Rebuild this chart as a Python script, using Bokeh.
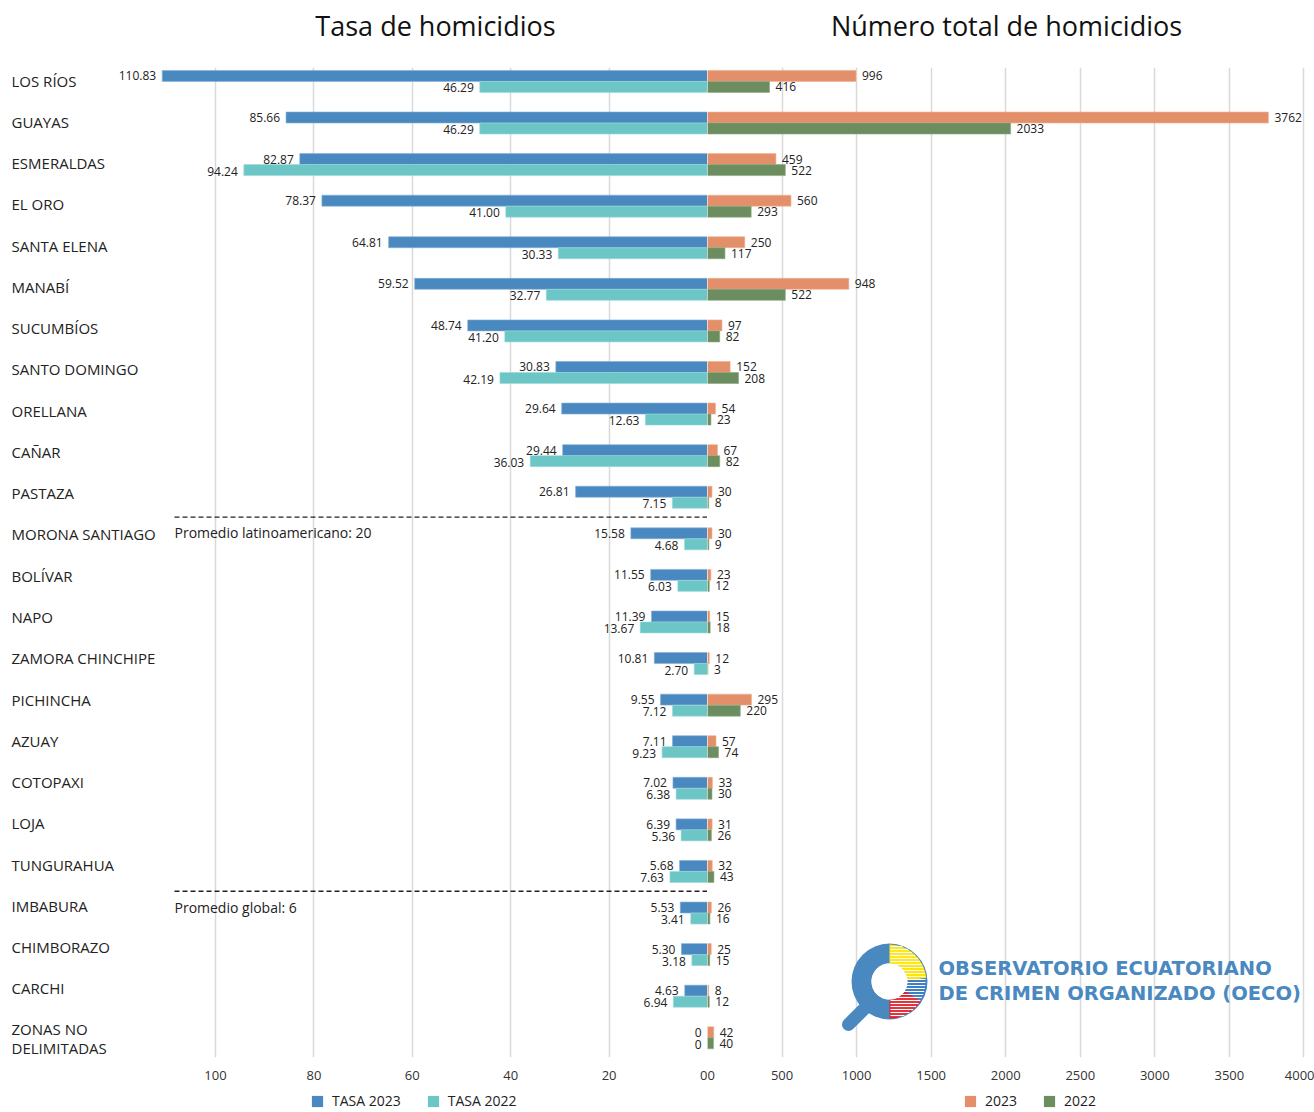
import math
from bokeh.plotting import figure
from bokeh.models import Range1d, FixedTicker, Legend, LegendItem, ColumnDataSource
from bokeh.layouts import row, column
from bokeh.embed import file_html
from bokeh.resources import INLINE
from bokeh.core.properties import value

# ---------------- data ----------------
provinces = ["LOS RÍOS", "GUAYAS", "ESMERALDAS", "EL ORO", "SANTA ELENA", "MANABÍ",
             "SUCUMBÍOS", "SANTO DOMINGO", "ORELLANA", "CAÑAR", "PASTAZA",
             "MORONA SANTIAGO", "BOLÍVAR", "NAPO", "ZAMORA CHINCHIPE", "PICHINCHA",
             "AZUAY", "COTOPAXI", "LOJA", "TUNGURAHUA", "IMBABURA", "CHIMBORAZO",
             "CARCHI", "ZONAS NO\nDELIMITADAS"]
tasa_2023 = [110.83, 85.66, 82.87, 78.37, 64.81, 59.52, 48.74, 30.83, 29.64, 29.44, 26.81,
             15.58, 11.55, 11.39, 10.81, 9.55, 7.11, 7.02, 6.39, 5.68, 5.53, 5.30, 4.63, 0]
tasa_2022 = [46.29, 46.29, 94.24, 41.00, 30.33, 32.77, 41.20, 42.19, 12.63, 36.03, 7.15,
             4.68, 6.03, 13.67, 2.70, 7.12, 9.23, 6.38, 5.36, 7.63, 3.41, 3.18, 6.94, 0]
total_2023 = [996, 3762, 459, 560, 250, 948, 97, 152, 54, 67, 30, 30, 23, 15, 12, 295,
              57, 33, 31, 32, 26, 25, 8, 42]
total_2022 = [416, 2033, 522, 293, 117, 522, 82, 208, 23, 82, 8, 9, 12, 18, 3, 220,
              74, 30, 26, 43, 16, 15, 12, 40]
rate_ticks = [0, 20, 40, 60, 80, 100]
count_ticks = [0, 500, 1000, 1500, 2000, 2500, 3000, 3500, 4000]
lat_avg = 20
global_avg = 6
title_left = "Tasa de homicidios"
title_right = "Número total de homicidios"
legend_left = ["TASA 2023", "TASA 2022"]
legend_right = ["2023", "2022"]
logo_lines = ["OBSERVATORIO ECUATORIANO", "DE CRIMEN ORGANIZADO (OECO)"]

# ---------------- style / geometry ----------------
C_T23 = "#4a89c0"
C_T22 = "#6cc6c6"
C_N23 = "#e3906a"
C_N22 = "#6b8d60"
GRID = "#d9d9d9"
TXT = "#222222"
FONT = "Open Sans"

ZERO_PX = 707
W_L = ZERO_PX
W_R = 1314 - ZERO_PX
W = W_L + W_R
H_TITLE = 67
FRAME_H = 990
BOTTOM = 26
H_MAIN = FRAME_H + BOTTOM
H_LEG = 27
KX_L = 4.92               # px per rate unit
KX_R = 0.1491             # px per count unit
X_L_MAX = W_L / KX_L
X_R_MAX = W_R / KX_R
ROW0_PX = 80              # page y of first category
KY = 41.58                # px per category (bars)
LABEL_STEP = 41.27 / KY   # category labels sit on a slightly tighter grid
Y_TOP = -(ROW0_PX - H_TITLE) / KY
Y_BOT = Y_TOP + FRAME_H / KY

n = len(provinces)
ys = list(range(n))
BH = 0.264
y23 = [y - 0.11 for y in ys]
y22 = [y + 0.155 for y in ys]
ylab = [y * LABEL_STEP for y in ys[:-1]] + [(1038 - ROW0_PX) / KY]


def fmt_rate(v):
    return "0" if v == 0 else f"{v:.2f}"


src = ColumnDataSource(dict(
    y=ys, y23=y23, y22=y22, ylab=ylab, prov=provinces,
    t23=tasa_2023, t22=tasa_2022, n23=total_2023, n22=total_2022,
    t23s=[fmt_rate(v) for v in tasa_2023], t22s=[fmt_rate(v) for v in tasa_2022],
    n23s=[str(v) for v in total_2023], n22s=[str(v) for v in total_2022],
    zero=[0] * n,
))

y_range = Range1d(Y_BOT, Y_TOP)


def plain_fig(width, height, **kw):
    p = figure(width=width, height=height, output_backend="svg", toolbar_location=None,
               title=None, min_border=0, **kw)
    p.outline_line_color = None
    p.background_fill_color = None
    p.border_fill_color = None
    return p


def main_fig(width, x_range):
    p = plain_fig(width, H_MAIN, x_range=x_range, y_range=y_range,
                  y_axis_location=None, min_border_bottom=BOTTOM)
    p.ygrid.grid_line_color = None
    p.xgrid.grid_line_color = GRID
    p.xgrid.grid_line_width = 1.5
    ax = p.xaxis[0]
    ax.axis_line_color = None
    ax.major_tick_line_color = None
    ax.minor_tick_line_color = None
    ax.major_label_text_font = FONT
    ax.major_label_text_font_size = "13px"
    ax.major_label_text_color = "#333333"
    ax.major_label_standoff = 7
    return p


# ---------------- titles ----------------
pt = plain_fig(W, H_TITLE, x_range=Range1d(0, W), y_range=Range1d(0, H_TITLE),
               x_axis_location=None, y_axis_location=None)
pt.grid.grid_line_color = None
pt.text(x=[435, 1006], y=[H_TITLE - 25, H_TITLE - 25], text=[title_left, title_right],
        text_align="center", text_baseline="middle", text_font=value(FONT),
        text_font_size="27px", text_color="#111111")

# ---------------- left: rate ----------------
pl = main_fig(W_L, Range1d(X_L_MAX, 0))
pl.xaxis[0].ticker = FixedTicker(ticks=rate_ticks)
pl.xgrid.ticker = FixedTicker(ticks=rate_ticks)

pl.hbar(y="y23", left="zero", right="t23", height=BH, source=src,
        fill_color=C_T23, line_color="#7fb0da", line_width=0.6)
pl.hbar(y="y22", left="zero", right="t22", height=BH, source=src,
        fill_color=C_T22, line_color="#9adada", line_width=0.6)
pl.text(x="t23", y="y23", text="t23s", source=src, x_offset=-6, text_align="right",
        text_baseline="middle", text_font=value(FONT), text_font_size="12px", text_color=TXT)
pl.text(x="t22", y="y22", text="t22s", source=src, x_offset=-6, y_offset=1,
        text_align="right", text_baseline="middle", text_font=value(FONT),
        text_font_size="12px", text_color=TXT)

# category labels
pl.text(x=X_L_MAX - 11 / KX_L, y="ylab", text="prov", source=src, text_align="left",
        text_baseline="middle", text_font=value(FONT), text_font_size="15px",
        text_color=TXT, text_line_height=0.95)

# average reference lines
line_end = (ZERO_PX - 173) / KX_L
for yy, lab in [(10.5, f"Promedio latinoamericano: {lat_avg}"),
                (19.5, f"Promedio global: {global_avg}")]:
    pl.segment(x0=[0], x1=[line_end], y0=[yy], y1=[yy], line_color=TXT,
               line_width=1.4, line_dash="5 3")
    pl.text(x=[line_end - 0.2], y=[yy + 0.38], text=[lab], text_align="left",
            text_baseline="middle", text_font=value(FONT), text_font_size="14px",
            text_color=TXT)

# ---------------- right: totals ----------------
pr = main_fig(W_R, Range1d(0, X_R_MAX))
pr.xaxis[0].ticker = FixedTicker(ticks=count_ticks)
pr.xgrid.ticker = FixedTicker(ticks=count_ticks)

pr.hbar(y="y23", left="zero", right="n23", height=BH, source=src,
        fill_color=C_N23, line_color="#f0b090", line_width=0.6)
pr.hbar(y="y22", left="zero", right="n22", height=BH, source=src,
        fill_color=C_N22, line_color="#8aa880", line_width=0.6)
pr.text(x="n23", y="y23", text="n23s", source=src, x_offset=6, text_align="left",
        text_baseline="middle", text_font=value(FONT), text_font_size="12px", text_color=TXT)
pr.text(x="n22", y="y22", text="n22s", source=src, x_offset=6, text_align="left",
        text_baseline="middle", text_font=value(FONT), text_font_size="12px", text_color=TXT)

# ---------------- logo (decoration) ----------------
LOGO_BLUE = "#4a89c0"
cx = (889 - ZERO_PX) / KX_R
cy = (981 - ROW0_PX) / KY
R_OUT, R_IN = 38, 18
pr.segment(x0=[cx - 41 / KX_R], y0=[cy + 43 / KY], x1=[cx - 20 / KX_R], y1=[cy + 22 / KY],
           line_color=LOGO_BLUE, line_width=13, line_cap="round")
pr.annulus(x=[cx], y=[cy], inner_radius=R_IN, outer_radius=R_OUT,
           inner_radius_units="screen", outer_radius_units="screen",
           fill_color=LOGO_BLUE, line_color=None)
d = math.pi / 180
for a0, a1, col in [(5, 90, "#ffe600"), (-32, 5, "#3f7fc4"), (-90, -32, "#e0202a")]:
    pr.annular_wedge(x=[cx], y=[cy], inner_radius=R_IN, outer_radius=R_OUT - 1,
                     inner_radius_units="screen", outer_radius_units="screen",
                     start_angle=a0 * d, end_angle=a1 * d, fill_color=col, line_color=None)
sx0, sx1, sy0 = [], [], []
for dy in range(-35, 37, 3):
    w = math.sqrt(max(R_OUT ** 2 - dy ** 2, 0)) - 2
    sx0.append(cx + 1 / KX_R)
    sx1.append(cx + w / KX_R)
    sy0.append(cy + dy / KY)
pr.segment(x0=sx0, x1=sx1, y0=sy0, y1=sy0, line_color="white", line_width=1.2)
pr.circle(x=[cx], y=[cy], radius=R_IN, radius_units="screen", fill_color="white",
          line_color=None)
pr.text(x=[(938 - ZERO_PX) / KX_R] * 2, y=[(968 - ROW0_PX) / KY, (993 - ROW0_PX) / KY],
        text=logo_lines, text_align="left", text_baseline="middle",
        text_font=value("DejaVu Sans"), text_font_style="bold", text_font_size="19.5px",
        text_color=LOGO_BLUE)

# ---------------- legends ----------------
plg = plain_fig(W, H_LEG, x_range=Range1d(0, W), y_range=Range1d(0, H_LEG),
                x_axis_location=None, y_axis_location=None)
plg.grid.grid_line_color = None
nan = float("nan")
leg_cols = [C_T23, C_T22, C_N23, C_N22]
leg_rs = [plg.hbar(y=[nan], left=[nan], right=[nan], height=1, fill_color=c, line_color=None)
          for c in leg_cols]


def make_legend(labels, rs, loc):
    return Legend(items=[LegendItem(label=lb, renderers=[r]) for lb, r in zip(labels, rs)],
                  orientation="horizontal", location=loc, padding=0, margin=0,
                  spacing=25, glyph_width=14, glyph_height=14, label_height=14,
                  label_standoff=8, label_text_font=FONT, label_text_font_size="14px",
                  label_text_color=TXT, border_line_color=None,
                  background_fill_color=None)


plg.add_layout(make_legend(legend_left, leg_rs[:2], (310, 0)))
plg.add_layout(make_legend(legend_right, leg_rs[2:], (963, 0)))

layout = column(pt, row(pl, pr, spacing=0), plg, spacing=0)
open("out.html", "w").write(file_html(layout, INLINE))
